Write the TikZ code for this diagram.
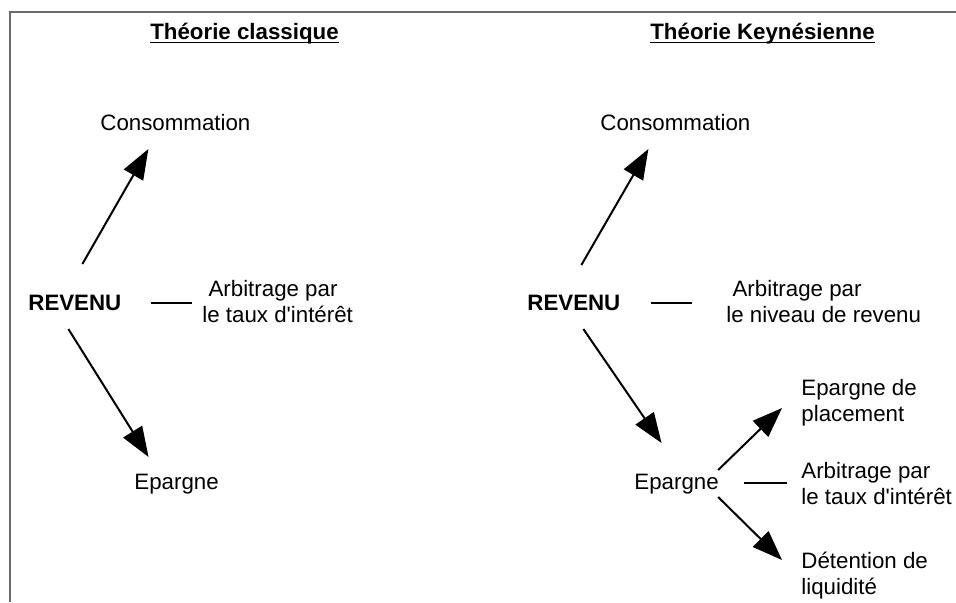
\documentclass[tikz,border=0pt]{standalone}
\usepackage{fontspec}
\setmainfont{Liberation Sans}
\usetikzlibrary{arrows.meta}
\definecolor{framegray}{gray}{0.42}

\begin{document}
\begin{tikzpicture}[x=0.5pt,y=-0.5pt,
  txt/.style={inner sep=0pt,font=\fontsize{11.15}{13}\selectfont},
  bld/.style={txt,font=\fontsize{11.15}{13}\selectfont\bfseries},
  lbl/.style={txt,align=left,anchor=north west},
  arr/.style={line width=1pt,-{Triangle[length=15pt,width=11pt]}},
  tie/.style={line width=0.9pt}]

\useasboundingbox (0,0) rectangle (956,602);

%% frame
\draw[framegray,line width=0.8pt] (10,602) -- (10,12) -- (956,12);

%% titles
\node[bld,anchor=base] (tclass) at (244.5,39.5) {Théorie classique};
\node[bld,anchor=base] (tkeyn) at (762.5,39.5) {Théorie Keynésienne};
\draw[tie] ([yshift=-1.5pt]tclass.base west) -- ([yshift=-1.5pt]tclass.base east);
\draw[tie] ([yshift=-1.5pt]tkeyn.base west) -- ([yshift=-1.5pt]tkeyn.base east);

%% classique: nodes
\node[txt,anchor=base west] (consL) at (100,130) {Consommation};    %% consommation
\node[bld,anchor=base west] (revL) at (28,310) {REVENU};            %% revenu
\node[lbl] (arbL) at (202,280) {~Arbitrage par\\le taux d\textquotesingle intérêt}; %% arbitrage
\node[txt,anchor=base west] (epL) at (134,489) {Epargne};           %% epargne

%% keynesienne: nodes
\node[txt,anchor=base west] (consR) at (600,130) {Consommation};
\node[bld,anchor=base west] (revR) at (527,310) {REVENU};
\node[lbl] (arbR) at (726,280) {~Arbitrage par\\le niveau de revenu};
\node[txt,anchor=base west] (epR) at (634,489) {Epargne};
\node[lbl] (plac) at (801,379) {Epargne de\\placement};
\node[lbl] (arbT) at (801,462) {Arbitrage par\\le taux d\textquotesingle intérêt};
\node[lbl] (detL) at (801,552) {Détention de\\liquidité};

%% classique: edges
\draw[arr] ([shift={(7.5,-46)}]revL.base) -- ([shift={(-27,19)}]consL.base);      %% revenu-consommation
\draw[arr] ([shift={(-6.5,19)}]revL.base) -- ([shift={(-28,-32)}]epL.base);       %% revenu-epargne
\draw[tie] ([shift={(29,-7)}]revL.base east) -- ([shift={(-10,23)}]arbL.north west); %% revenu-arbitrage

%% keynesienne: edges
\draw[arr] ([shift={(7.5,-45)}]revR.base) -- ([shift={(-27,19)}]consR.base);
\draw[arr] ([shift={(9.5,19)}]revR.base) -- ([shift={(-15,-46)}]epR.base);
\draw[tie] ([shift={(30,-7)}]revR.base east) -- ([shift={(-34,23)}]arbR.north west);
\draw[arr] ([shift={(-1,-19)}]epR.base east) -- ([shift={(-19,29)}]plac.north west);
\draw[tie] ([shift={(25,-6)}]epR.base east) -- ([shift={(-14,21)}]arbT.north west);
\draw[arr] ([shift={(-1,8)}]epR.base east) -- ([shift={(-19,8)}]detL.north west);
\end{tikzpicture}
\end{document}
